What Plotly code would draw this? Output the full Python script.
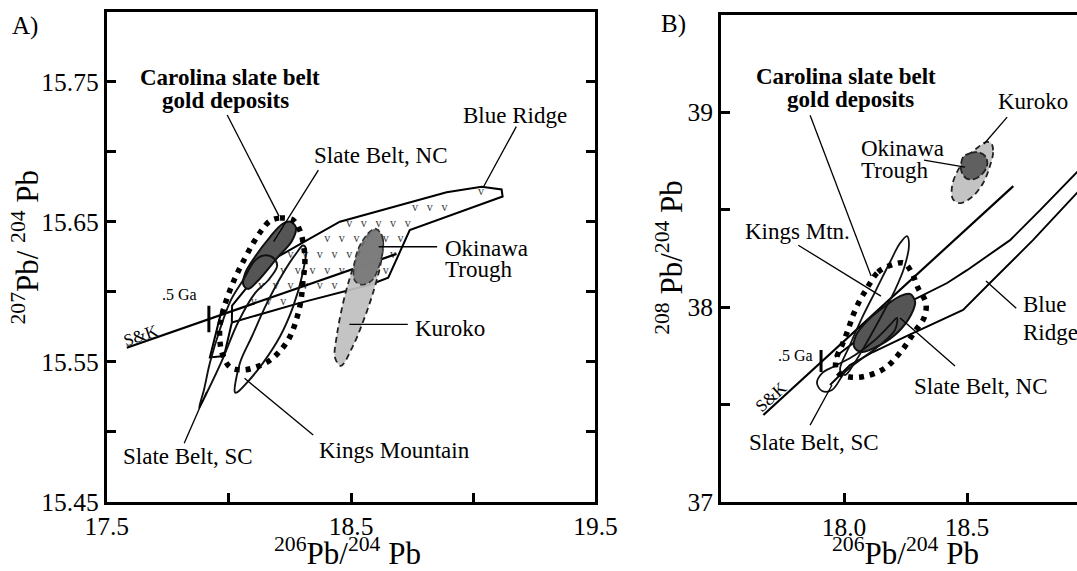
import plotly.graph_objects as go

FONT = "Liberation Serif, Times New Roman, serif"

# ---------------- Panel A : 206Pb/204Pb vs 207Pb/204Pb ----------------
a_xrange = [17.5, 19.5]
a_yrange = [15.45, 15.80]
a_xticks = [17.5, 18.0, 18.5, 19.0, 19.5]
a_xticktext = ["17.5", "", "18.5", "", "19.5"]
a_yticks = [15.45, 15.50, 15.55, 15.60, 15.65, 15.70, 15.75]
a_yticktext = ["15.45", "", "15.55", "", "15.65", "", "15.75"]

a_sk_x = [17.582, 18.686]
a_sk_y = [15.560, 15.627]
a_ga_x = [17.918, 17.918]
a_ga_y = [15.571, 15.590]

a_blue_x = [18.012, 18.291, 18.577, 18.652, 18.740, 19.120, 19.116, 19.034, 18.891,
            18.577, 18.454, 18.311, 18.181, 18.087, 18.013, 18.012]
a_blue_y = [15.578, 15.592, 15.605, 15.610, 15.644, 15.668, 15.673, 15.675, 15.671,
            15.656, 15.650, 15.636, 15.623, 15.606, 15.590, 15.578]
a_box_x = [18.012, 17.980, 17.922, 17.972]
a_box_y = [15.578, 15.554, 15.553, 15.588]

a_nc_x = [18.250, 18.274, 18.257, 18.202, 18.120, 18.079, 18.059, 18.066, 18.107, 18.168, 18.216, 18.250]
a_nc_y = [15.650, 15.646, 15.636, 15.625, 15.608, 15.602, 15.605, 15.613, 15.625, 15.639, 15.648, 15.650]

a_sc_x = [17.878, 17.898, 17.922, 17.963, 18.008, 18.057, 18.111, 18.152, 18.188, 18.197,
          18.160, 18.107, 18.037, 17.972, 17.910, 17.878]
a_sc_y = [15.517, 15.530, 15.549, 15.573, 15.594, 15.608, 15.623, 15.626, 15.623, 15.618,
          15.608, 15.599, 15.578, 15.551, 15.528, 15.517]

a_km_x = [18.025, 18.045, 18.094, 18.156, 18.221, 18.278, 18.303, 18.315, 18.299, 18.262,
          18.209, 18.139, 18.074, 18.033, 18.025]
a_km_y = [15.528, 15.549, 15.568, 15.592, 15.613, 15.628, 15.633, 15.631, 15.611, 15.589,
          15.568, 15.549, 15.535, 15.528, 15.528]

a_kur_x = [18.610, 18.630, 18.622, 18.593, 18.552, 18.507, 18.458, 18.434, 18.442, 18.466,
           18.495, 18.528, 18.561, 18.585, 18.610]
a_kur_y = [15.644, 15.637, 15.621, 15.601, 15.580, 15.561, 15.547, 15.553, 15.569, 15.591,
           15.610, 15.626, 15.638, 15.643, 15.644]

a_oki_x = [18.602, 18.626, 18.630, 18.614, 18.585, 18.544, 18.515, 18.511, 18.528, 18.561, 18.585, 18.602]
a_oki_y = [15.645, 15.640, 15.630, 15.618, 15.608, 15.605, 15.608, 15.617, 15.630, 15.640, 15.644, 15.645]

a_car_x = [18.168, 18.209, 18.262, 18.291, 18.307, 18.311, 18.303, 18.295, 18.278, 18.249,
           18.209, 18.164, 18.111, 18.057, 18.004, 17.972, 17.963, 17.963, 17.976, 18.000,
           18.029, 18.066, 18.102, 18.135, 18.168]
a_car_y = [15.6505, 15.6526, 15.6512, 15.6434, 15.6312, 15.6205, 15.6076, 15.5941, 15.5812, 15.5676,
           15.5576, 15.5505, 15.5462, 15.5441, 15.5462, 15.5562, 15.5655, 15.5748, 15.5862, 15.5991,
           15.6112, 15.6241, 15.6355, 15.6441, 15.6505]

# labels: (text, x, y, anchor, bold)
a_labels = [
    ("Carolina slate belt", 18.005, 15.7530, "center", True),
    ("gold deposits", 17.984, 15.7366, "center", True),
    ("Slate Belt, NC", 18.622, 15.6972, "center", False),
    ("Blue Ridge", 19.170, 15.7258, "center", False),
    ("Okinawa", 18.875, 15.6308, "left", False),
    ("Trough", 18.875, 15.6158, "left", False),
    ("Kuroko", 18.753, 15.5737, "left", False),
    ("Kings Mountain", 18.679, 15.4865, "center", False),
    ("Slate Belt, SC", 17.832, 15.4822, "center", False),
]
a_leaders = [
    (17.993, 15.7262, 18.205, 15.6540),
    (18.366, 15.6869, 18.183, 15.6357),
    (19.176, 15.7179, 19.042, 15.6750),
    (18.613, 15.6321, 18.852, 15.6321),
    (18.493, 15.5767, 18.732, 15.5767),
    (18.064, 15.5381, 18.345, 15.4976),
    (17.817, 15.4917, 17.909, 15.5286),
]
a_ga_label = (".5 Ga", 17.796, 15.598)
a_sk_label = ("S&K", 17.640, 15.5690, -19)

# ---------------- Panel B : 206Pb/204Pb vs 208Pb/204Pb ----------------
b_xrange = [17.5, 18.947]
b_yrange = [37.0, 39.5]
b_xticks = [18.0, 18.5]
b_xticktext = ["18.0", "18.5"]
b_yticks = [37.0, 37.5, 38.0, 38.5, 39.0]
b_yticktext = ["37", "", "38", "", "39"]

b_sk_x = [17.672, 18.688]
b_sk_y = [37.448, 38.622]
b_ga_x = [17.9065, 17.9065]
b_ga_y = [37.669, 37.781]

b_bru_x = [19.041, 18.947, 18.797, 18.675, 18.500, 18.419, 18.256, 18.053, 17.963]
b_bru_y = [38.817, 38.694, 38.499, 38.345, 38.191, 38.125, 38.022, 37.832, 37.745]
b_brl_x = [19.041, 18.768, 18.593, 18.484, 18.256, 18.118, 18.024, 17.943]
b_brl_y = [38.715, 38.345, 38.125, 37.987, 37.854, 37.771, 37.704, 37.602]

b_kur_x = [18.598, 18.606, 18.593, 18.565, 18.520, 18.472, 18.443, 18.439, 18.459, 18.496, 18.545, 18.577, 18.598]
b_kur_y = [38.843, 38.796, 38.725, 38.637, 38.566, 38.535, 38.555, 38.622, 38.694, 38.766, 38.822, 38.848, 38.843]
b_oki_x = [18.484, 18.512, 18.545, 18.577, 18.581, 18.561, 18.528, 18.496, 18.476, 18.484]
b_oki_y = [38.771, 38.791, 38.796, 38.771, 38.725, 38.684, 38.658, 38.663, 38.704, 38.771]

b_nc_x = [18.268, 18.289, 18.272, 18.220, 18.146, 18.073, 18.041, 18.049, 18.098, 18.167, 18.228, 18.268]
b_nc_y = [38.069, 38.028, 37.961, 37.874, 37.807, 37.771, 37.797, 37.858, 37.935, 38.007, 38.058, 38.069]

b_sc_x = [17.890, 17.911, 17.963, 18.045, 18.126, 18.187, 18.215, 18.207, 18.146, 18.065, 18.004, 17.951, 17.911, 17.890]
b_sc_y = [37.612, 37.663, 37.699, 37.756, 37.833, 37.910, 37.946, 37.884, 37.807, 37.730, 37.668, 37.576, 37.571, 37.612]

b_km_x = [18.256, 18.264, 18.244, 18.207, 18.154, 18.098, 18.045, 18.004, 17.984, 18.024, 18.073, 18.130, 18.187, 18.228, 18.256]
b_km_y = [38.366, 38.319, 38.202, 38.089, 37.961, 37.833, 37.720, 37.653, 37.679, 37.807, 37.946, 38.089, 38.233, 38.330, 38.366]

b_car_x = [18.106, 18.138, 18.191, 18.244, 18.276, 18.301, 18.333, 18.325, 18.289, 18.236, 18.167,
           18.089, 18.024, 17.972, 17.967, 17.992, 18.016, 18.037, 18.065, 18.089, 18.106]
b_car_y = [38.125, 38.181, 38.217, 38.227, 38.176, 38.099, 38.022, 37.946, 37.879, 37.781, 37.689,
           37.648, 37.643, 37.668, 37.730, 37.807, 37.884, 37.961, 38.038, 38.089, 38.125]

b_labels = [
    ("Carolina slate belt", 18.006, 39.182, "center", True),
    ("gold deposits", 18.028, 39.064, "center", True),
    ("Kuroko", 18.768, 39.054, "center", False),
    ("Okinawa", 18.059, 38.815, "left", False),
    ("Trough", 18.059, 38.703, "left", False),
    ("Kings Mtn.", 17.809, 38.387, "center", False),
    ("Blue", 18.720, 38.013, "left", False),
    ("Ridge", 18.720, 37.869, "left", False),
    ("Slate Belt, NC", 18.557, 37.592, "center", False),
    ("Slate Belt, SC", 17.878, 37.308, "center", False),
]
b_leaders = [
    (17.862, 38.986, 18.110, 38.161),
    (18.663, 38.976, 18.569, 38.838),
    (18.325, 38.755, 18.492, 38.720),
    (17.814, 38.319, 18.150, 38.058),
    (18.700, 37.996, 18.577, 38.135),
    (18.451, 37.699, 18.228, 37.946),
    (17.862, 37.396, 17.951, 37.602),
]
b_ga_label = (".5 Ga", 17.801, 37.752)
b_sk_label = ("S&K", 17.705, 37.545, -42)

# ---------------------------------------------------------------------
fig = go.Figure()


def add_line(xs, ys, ax, color="black", width=2.0, dash="solid", shape="linear",
             fillcolor=None):
    fig.add_trace(go.Scatter(
        x=xs, y=ys, mode="lines", xaxis=ax[0], yaxis=ax[1],
        line=dict(color=color, width=width, dash=dash, shape=shape, smoothing=1.0),
        fill="toself" if fillcolor else None, fillcolor=fillcolor,
        hoverinfo="skip", showlegend=False))


def add_leaders(segs, ax):
    xs, ys = [], []
    for x0, y0, x1, y1 in segs:
        xs += [x0, x1, None]
        ys += [y0, y1, None]
    add_line(xs, ys, ax, width=1.3)


def inside(px, py, xs, ys):
    c = False
    j = len(xs) - 1
    for i in range(len(xs)):
        if ((ys[i] > py) != (ys[j] > py)) and \
                (px < (xs[j] - xs[i]) * (py - ys[i]) / (ys[j] - ys[i]) + xs[i]):
            c = not c
        j = i
    return c


A = ("x", "y")
B = ("x2", "y2")

# ---- Panel A marks ----
add_line(a_blue_x, a_blue_y, A, width=2.0)
add_line(a_box_x, a_box_y, A, width=2.0)
# "v" hatching texture inside the Blue Ridge field
hx, hy = [], []
row = 0
yv = min(a_blue_y) + 0.0035
while yv < max(a_blue_y):
    xv = min(a_blue_x) + (0.03 if row % 2 else 0.0)
    while xv < max(a_blue_x):
        ok = all(inside(xv + dx, yv + dy, a_blue_x, a_blue_y)
                 for dx in (-0.012, 0.012) for dy in (-0.0025, 0.0025))
        if ok:
            hx.append(xv)
            hy.append(yv)
        xv += 0.06
    yv += 0.0112
    row += 1
fig.add_trace(go.Scatter(x=hx, y=hy, mode="text", text=["v"] * len(hx), xaxis="x", yaxis="y",
                         textfont=dict(family=FONT, size=12, color="#444444"),
                         hoverinfo="skip", showlegend=False))
add_line(a_sk_x, a_sk_y, A, width=2.2)
add_line(a_ga_x, a_ga_y, A, width=3.0)
add_line(a_kur_x, a_kur_y, A, color="#222", width=1.8, dash="6px,4px", shape="spline",
         fillcolor="rgba(192,192,192,0.93)")
add_line(a_oki_x, a_oki_y, A, color="#333", width=1.6, dash="6px,3px", shape="spline",
         fillcolor="rgba(115,115,115,0.88)")
add_line(a_nc_x, a_nc_y, A, color="#111", width=2.0, shape="spline", fillcolor="#555555")
add_line(a_sc_x, a_sc_y, A, color="#111", width=1.9, shape="spline")
add_line(a_km_x, a_km_y, A, color="#111", width=1.9, shape="spline")
add_line(a_car_x, a_car_y, A, color="black", width=5.5, dash="5px,6px", shape="spline")
add_leaders(a_leaders, A)

# ---- Panel B marks ----
add_line(b_bru_x, b_bru_y, B, width=1.9)
add_line(b_brl_x, b_brl_y, B, width=1.9)
add_line(b_sk_x, b_sk_y, B, width=2.2)
add_line(b_ga_x, b_ga_y, B, width=3.0)
add_line(b_kur_x, b_kur_y, B, color="#222", width=1.8, dash="6px,4px", shape="spline",
         fillcolor="rgba(192,192,192,0.95)")
add_line(b_oki_x, b_oki_y, B, color="#222", width=1.8, dash="7px,3px", shape="spline",
         fillcolor="#606060")
add_line(b_nc_x, b_nc_y, B, color="#111", width=2.0, shape="spline", fillcolor="#555555")
add_line(b_sc_x, b_sc_y, B, color="#111", width=1.8, shape="spline")
add_line(b_km_x, b_km_y, B, color="#111", width=1.8, shape="spline")
add_line(b_car_x, b_car_y, B, color="black", width=5.5, dash="5px,6px", shape="spline")
add_leaders(b_leaders, B)

# ---- annotations ----
ann = []


def label(text, x, y, ax, anchor="center", bold=False, size=23, angle=0):
    ann.append(dict(text=f"<b>{text}</b>" if bold else text, x=x, y=y,
                    xref=ax[0], yref=ax[1], xanchor=anchor, yanchor="middle",
                    showarrow=False, textangle=angle,
                    font=dict(family=FONT, size=size, color="black")))


for t, x, y, anc, bd in a_labels:
    label(t, x, y, A, anc, bd)
for t, x, y, anc, bd in b_labels:
    label(t, x, y, B, anc, bd)
label(a_ga_label[0], a_ga_label[1], a_ga_label[2], A, size=16)
label(b_ga_label[0], b_ga_label[1], b_ga_label[2], B, size=16)
label(a_sk_label[0], a_sk_label[1], a_sk_label[2], A, size=17, angle=a_sk_label[3])
label(b_sk_label[0], b_sk_label[1], b_sk_label[2], B, size=17, angle=b_sk_label[3])


def paper_text(text, x, y, size, angle=0):
    ann.append(dict(text=text, x=x, y=y, xref="paper", yref="paper", xanchor="center",
                    yanchor="middle", showarrow=False, textangle=angle,
                    font=dict(family=FONT, size=size, color="black")))


paper_text("A)", 0.0232, 0.9545, 25)
paper_text("B)", 0.6258, 0.9580, 25)
paper_text("<sup>206</sup>Pb/<sup>204</sup> Pb", 0.323, 0.034, 31)
paper_text("<sup>206</sup>Pb/<sup>204</sup> Pb", 0.841, 0.034, 31)
paper_text("<sup>207</sup>Pb/ <sup>204</sup> Pb", 0.0235, 0.567, 31, -90)
paper_text("<sup>208</sup> Pb/<sup>204</sup> Pb", 0.622, 0.550, 31, -90)

axis_common = dict(ticks="inside", ticklen=9, tickwidth=3, tickcolor="black",
                   showline=True, linewidth=3, linecolor="black", showgrid=False,
                   zeroline=False, automargin=False,
                   tickfont=dict(family=FONT, size=25.5, color="black"))

fig.update_layout(
    width=1077, height=571,
    margin=dict(l=0, r=0, t=0, b=0, pad=0, autoexpand=False),
    paper_bgcolor="white", plot_bgcolor="white", showlegend=False,
    annotations=ann,
    xaxis=dict(domain=[0.0991, 0.5529], range=a_xrange, tickvals=a_xticks,
               ticktext=a_xticktext, mirror=True, anchor="y", **axis_common),
    yaxis=dict(domain=[0.1214, 0.9795], range=a_yrange, tickvals=a_yticks,
               ticktext=a_yticktext, mirror="ticks", anchor="x", **axis_common),
    xaxis2=dict(domain=[0.6695, 1.0], range=b_xrange, tickvals=b_xticks,
                ticktext=b_xticktext, mirror=True, anchor="y2", **axis_common),
    yaxis2=dict(domain=[0.1203, 0.9737], range=b_yrange, tickvals=b_yticks,
                ticktext=b_yticktext, mirror=False, anchor="x2", **axis_common),
)

fig.write_html(
    "out.html",
    config={"displayModeBar": False},
    post_script="document.body.style.margin='0px';document.body.style.overflow='hidden';",
)
